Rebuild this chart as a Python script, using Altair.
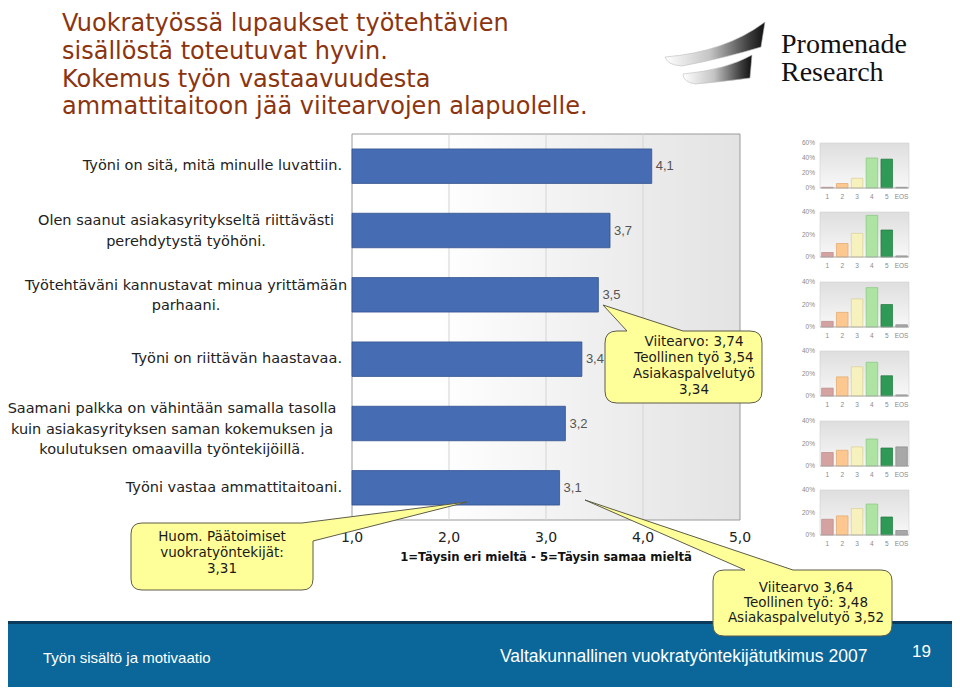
import altair as alt
import pandas as pd

# ---------------- data ----------------
statements = [
    "Työni on sitä, mitä minulle luvattiin.",
    "Olen saanut asiakasyritykseltä riittävästi\nperehdytystä työhöni.",
    "Työtehtäväni kannustavat minua yrittämään\nparhaani.",
    "Työni on riittävän haastavaa.",
    "Saamani palkka on vähintään samalla tasolla\nkuin asiakasyrityksen saman kokemuksen ja\nkoulutuksen omaavilla työntekijöillä.",
    "Työni vastaa ammattitaitoani.",
]
means = [4.09, 3.66, 3.54, 3.37, 3.20, 3.14]
x_ticks = [1.0, 2.0, 3.0, 4.0, 5.0]
grid_values = [2.0, 3.0, 4.0]

hist_categories = ["1", "2", "3", "4", "5", "EOS"]
hist_1 = [1, 6, 13, 40, 38.5, 1]
hist_2 = [4, 12, 21, 37, 24, 1]
hist_3 = [5, 13, 25, 35, 20, 2]
hist_4 = [7, 17, 26, 30, 18, 1]
hist_5 = [12, 14, 17, 24, 16, 17]
hist_6 = [14, 17, 23.5, 27.5, 16, 4]
hist_max = [60, 40, 40, 40, 40, 40]
hist_colors = ["#d4a3a1", "#fdc88f", "#f7f1bd", "#aee3a4", "#2f9a55", "#a8a8a8"]
hist_strokes = ["#b98986", "#dfa76c", "#d8cf98", "#86c47e", "#22773f", "#8a8a8a"]

title_lines = [
    "Vuokratyössä lupaukset työtehtävien",
    "sisällöstä toteutuvat hyvin.",
    "Kokemus työn vastaavuudesta",
    "ammattitaitoon jää viitearvojen alapuolelle.",
]
axis_title = "1=Täysin eri mieltä - 5=Täysin samaa mieltä"
callout_reference_1 = ["Viitearvo: 3,74", "Teollinen työ 3,54", "Asiakaspalvelutyö", "3,34"]
callout_note = ["Huom. Päätoimiset", "vuokratyöntekijät:", "3,31"]
callout_reference_2 = ["Viitearvo 3,64", "Teollinen työ: 3,48", "Asiakaspalvelutyö 3,52"]
logo_lines = ["Promenade", "Research"]
footer_left = "Työn sisältö ja motivaatio"
footer_right = "Valtakunnallinen vuokratyöntekijätutkimus 2007"
page_number = "19"

# ---------------- styling helpers ----------------
SANS = "Liberation Sans, Arial, Helvetica, sans-serif"
WIDE = "DejaVu Sans, Verdana, sans-serif"
NARROW = "Liberation Sans Narrow, Arial Narrow, Liberation Sans, sans-serif"
SERIF = "Liberation Serif, Times New Roman, serif"
OFF = 8  # page margin


def px(v):
    return v - OFF


one = pd.DataFrame({"k": [0]})


def text_layer(text, x, y, size, color="#222222", align="center", baseline="middle",
               font=SANS, weight="normal", line_height=None):
    df = pd.DataFrame({"t": [text]})
    kw = dict(align=align, baseline=baseline, fontSize=size, color=color, font=font,
              fontWeight=weight, lineBreak="\n")
    if line_height:
        kw["lineHeight"] = line_height
    return alt.Chart(df).mark_text(**kw).encode(
        x=alt.value(px(x)), y=alt.value(px(y)), text="t:N")


def shape_layer(path, fill, stroke, sw=1.0):
    return alt.Chart(one).mark_point(
        shape=path, size=4, filled=True, fill=fill, stroke=stroke,
        strokeWidth=sw, opacity=1).encode(x=alt.value(-OFF), y=alt.value(-OFF))


layers = []

# ---------------- footer ----------------
layers.append(alt.Chart(one).mark_rect(color="#0b6699").encode(
    x=alt.value(-OFF), x2=alt.value(960), y=alt.value(px(622)), y2=alt.value(px(692))))
layers.append(alt.Chart(one).mark_rect(color="#0b3a5c").encode(
    x=alt.value(-OFF), x2=alt.value(960), y=alt.value(px(621)), y2=alt.value(px(624))))
layers.append(text_layer(footer_left, 43, 658, 15, color="white", align="left", font=NARROW))
layers.append(text_layer(footer_right, 500, 657, 17.5, color="white", align="left", font=NARROW))
layers.append(text_layer(page_number, 912, 652, 17, color="white", align="left", font=NARROW))

# ---------------- title ----------------
layers.append(text_layer("\n".join(title_lines), 62, 31, 24, color="#8b3510", align="left",
                         baseline="alphabetic", font=WIDE, line_height=27.8))

# ---------------- logo ----------------
swoosh_grad = alt.Gradient(
    gradient="linear", x1=0, y1=0, x2=1, y2=0,
    stops=[alt.GradientStop(offset=0, color="#ffffff"),
           alt.GradientStop(offset=0.45, color="#c4c4c4"),
           alt.GradientStop(offset=0.85, color="#3a3a3a"),
           alt.GradientStop(offset=1, color="#111111")])
layers.append(shape_layer(
    "M665,57 Q725,52 765,22 L761,47 Q725,58 682,66 Q667,65 665,57 Z",
    swoosh_grad, "#bdbdbd", 0.6))
layers.append(shape_layer(
    "M683,74 Q725,70 752,55 L750,78 Q720,82 695,84 Q683,82 683,74 Z",
    swoosh_grad, "#bdbdbd", 0.6))
layers.append(text_layer(logo_lines[0], 781, 53, 28, color="#111111", align="left",
                         baseline="alphabetic", font=SERIF))
layers.append(text_layer(logo_lines[1], 781, 81, 28, color="#111111", align="left",
                         baseline="alphabetic", font=SERIF))

# ---------------- main bar chart ----------------
xs = alt.Scale(domain=[x_ticks[0], x_ticks[-1]], range=[px(352), px(740)], zero=False, nice=False)
ys = alt.Scale(domain=[-0.5, len(statements) - 0.5], range=[px(134), px(520)], zero=False, nice=False)

main_df = pd.DataFrame({
    "row": list(range(len(statements))),
    "mean": means,
    "statement": statements,
    "lines": [s.count("\n") + 1 for s in statements],
})
frame_df = pd.DataFrame({"x0": [x_ticks[0]], "x1": [x_ticks[-1]],
                         "y0": [-0.5], "y1": [len(statements) - 0.5]})

main_grad = alt.Gradient(
    gradient="linear", x1=0, y1=0, x2=1, y2=0,
    stops=[alt.GradientStop(offset=0, color="#ffffff"),
           alt.GradientStop(offset=0.22, color="#ffffff"),
           alt.GradientStop(offset=0.6, color="#f0f0f0"),
           alt.GradientStop(offset=1, color="#e3e3e3")])

layers.append(alt.Chart(frame_df).mark_rect(fill=main_grad, stroke="#9a9a9a", strokeWidth=1).encode(
    x=alt.X("x0:Q", scale=xs, axis=None), x2="x1:Q",
    y=alt.Y("y0:Q", scale=ys, axis=None), y2="y1:Q"))

grid_df = pd.DataFrame({"g": grid_values})
layers.append(alt.Chart(grid_df).transform_calculate(y0="-0.5", y1=str(len(statements) - 0.5)).mark_rule(
    color="#d4d4d4", strokeWidth=1).encode(
    x=alt.X("g:Q", scale=xs, axis=None),
    y=alt.Y("y0:Q", scale=ys, axis=None), y2="y1:Q"))

layers.append(alt.Chart(main_df).transform_calculate(
    y0="datum.row - 0.268", y1="datum.row + 0.268", start=str(x_ticks[0])).mark_rect(
    color="#466cb4", stroke="#33538e", strokeWidth=0.8).encode(
    x=alt.X("start:Q", scale=xs, axis=None), x2="mean:Q",
    y=alt.Y("y0:Q", scale=ys, axis=None), y2="y1:Q"))

layers.append(alt.Chart(main_df).transform_calculate(
    txt="replace(format(datum.mean, '.1f'), '.', ',')").mark_text(
    align="left", baseline="middle", dx=4, fontSize=13, color="#555555", font=SANS).encode(
    x=alt.X("mean:Q", scale=xs, axis=None),
    y=alt.Y("row:Q", scale=ys, axis=None), text="txt:N"))

# row labels (single line right aligned, wrapped ones centred as blocks)
LBL_LH = 20.5
layers.append(alt.Chart(main_df).transform_filter("datum.lines == 1").mark_text(
    align="right", baseline="middle", fontSize=14.5, color="#222222", font=WIDE, lineBreak="\n").encode(
    x=alt.value(px(342)), y=alt.Y("row:Q", scale=ys, axis=None), text="statement:N"))
layers.append(alt.Chart(main_df).transform_filter("datum.lines == 2").mark_text(
    align="center", baseline="middle", fontSize=14.5, color="#222222", font=WIDE,
    lineBreak="\n", lineHeight=LBL_LH, dy=-LBL_LH / 2 + 1).encode(
    x=alt.value(px(186)), y=alt.Y("row:Q", scale=ys, axis=None), text="statement:N"))
layers.append(alt.Chart(main_df).transform_filter("datum.lines == 3").mark_text(
    align="center", baseline="middle", fontSize=14.5, color="#222222", font=WIDE,
    lineBreak="\n", lineHeight=LBL_LH, dy=-LBL_LH + 6).encode(
    x=alt.value(px(172)), y=alt.Y("row:Q", scale=ys, axis=None), text="statement:N"))

# x tick labels and axis title
tick_df = pd.DataFrame({"v": x_ticks})
layers.append(alt.Chart(tick_df).transform_calculate(
    t="replace(format(datum.v, '.1f'), '.', ',')").mark_text(
    fontSize=14, color="#222222", font=WIDE, baseline="middle").encode(
    x=alt.X("v:Q", scale=xs, axis=None), y=alt.value(px(538)), text="t:N"))
layers.append(text_layer(axis_title, 546, 557, 11.7, color="#111111", weight="bold", font=WIDE))

# ---------------- small distribution charts ----------------
hist_lists = [hist_1, hist_2, hist_3, hist_4, hist_5, hist_6]
hist_baselines = [188, 257, 327, 396, 466, 535]
panel_h = 45
hist_grad = alt.Gradient(
    gradient="linear", x1=0, y1=0, x2=0, y2=1,
    stops=[alt.GradientStop(offset=0, color="#dedede"),
           alt.GradientStop(offset=1, color="#f8f8f8")])

for vals, mx, base in zip(hist_lists, hist_max, hist_baselines):
    hx = alt.Scale(domain=[-0.5, len(hist_categories) - 0.5], range=[px(820), px(909)],
                   zero=False, nice=False)
    hy = alt.Scale(domain=[0, mx], range=[px(base), px(base - panel_h)], zero=False, nice=False)
    hdf = pd.DataFrame({"i": list(range(len(hist_categories))), "cat": hist_categories, "v": vals})
    pframe = pd.DataFrame({"x0": [-0.5], "x1": [len(hist_categories) - 0.5], "y0": [0], "y1": [mx]})
    layers.append(alt.Chart(pframe).mark_rect(fill=hist_grad, stroke="#d2d2d2", strokeWidth=0.6).encode(
        x=alt.X("x0:Q", scale=hx, axis=None), x2="x1:Q",
        y=alt.Y("y0:Q", scale=hy, axis=None), y2="y1:Q"))
    layers.append(alt.Chart(hdf).transform_calculate(
        x0="datum.i - 0.39", x1="datum.i + 0.39", z="0").mark_rect(strokeWidth=0.7).encode(
        x=alt.X("x0:Q", scale=hx, axis=None), x2="x1:Q",
        y=alt.Y("z:Q", scale=hy, axis=None), y2="v:Q",
        color=alt.Color("cat:N", scale=alt.Scale(domain=hist_categories, range=hist_colors), legend=None),
        stroke=alt.Stroke("cat:N", scale=alt.Scale(domain=hist_categories, range=hist_strokes), legend=None)))
    layers.append(alt.Chart(pframe).mark_rule(color="#a8a8a8", strokeWidth=0.8).encode(
        x=alt.X("x0:Q", scale=hx, axis=None), x2="x1:Q",
        y=alt.Y("y0:Q", scale=hy, axis=None)))
    tdf = pd.DataFrame({"t": list(range(0, mx + 1, 20))})
    layers.append(alt.Chart(tdf).transform_calculate(lab="datum.t + '%'").mark_text(
        align="right", baseline="middle", fontSize=6.5, color="#8a8a8a", font=SANS).encode(
        x=alt.value(px(815)), y=alt.Y("t:Q", scale=hy, axis=None), text="lab:N"))
    layers.append(alt.Chart(hdf).mark_text(
        baseline="middle", fontSize=6.5, color="#8a8a8a", font=SANS).encode(
        x=alt.X("i:Q", scale=hx, axis=None), y=alt.value(px(base + 9)), text="cat:N"))

# ---------------- callouts ----------------
YELLOW = "#ffff99"
EDGE = "#5c5c4a"
layers.append(shape_layer(
    "M617,331 L627,331 L603,305 L683,331 L750,331 Q762,331 762,343 L762,391 "
    "Q762,403 750,403 L617,403 Q605,403 605,391 L605,343 Q605,331 617,331 Z",
    YELLOW, EDGE, 1))
layers.append(shape_layer(
    "M142,523 L302,523 L467,502 L313,541 L313,579 Q313,590 302,590 L142,590 "
    "Q131,590 131,579 L131,534 Q131,523 142,523 Z",
    YELLOW, EDGE, 1))
layers.append(shape_layer(
    "M724,570 L745,570 L585,500 L793,570 L881,570 Q892,570 892,581 L892,625 "
    "Q892,636 881,636 L724,636 Q713,636 713,625 L713,581 Q713,570 724,570 Z",
    YELLOW, EDGE, 1))
layers.append(text_layer("\n".join(callout_reference_1), 694, 342, 13.5, color="#1a1a1a",
                         font=WIDE, line_height=16))
layers.append(text_layer("\n".join(callout_note), 222, 537, 13.5, color="#1a1a1a",
                         font=WIDE, line_height=16))
layers.append(text_layer("\n".join(callout_reference_2), 806, 588, 13.5, color="#1a1a1a",
                         font=WIDE, line_height=15))

chart = alt.layer(*layers).resolve_scale(
    x="independent", y="independent", color="independent", stroke="independent"
).properties(
    width=944, height=679, autosize=alt.AutoSizeParams(type="none"), padding=0
).configure_view(strokeWidth=0)

chart.save("out.html", embed_options={"renderer": "svg", "actions": False})
